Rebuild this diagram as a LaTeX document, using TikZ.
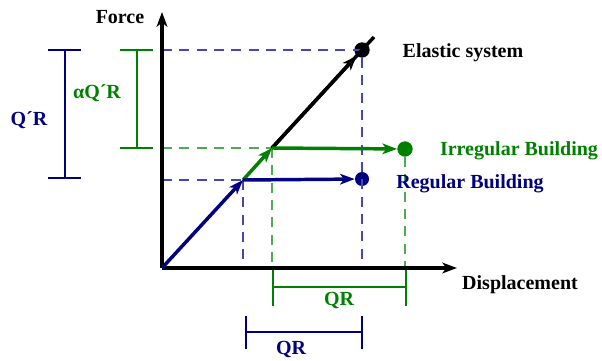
\documentclass[tikz,border=0pt]{standalone}
\usepackage{fontspec}
\setmainfont{Liberation Serif}
\usetikzlibrary{arrows.meta}
\definecolor{nb}{RGB}{0,0,128}
\definecolor{gg}{RGB}{0,128,0}
\definecolor{lb}{RGB}{70,70,180}
\definecolor{lg}{RGB}{80,170,80}
\begin{document}
\begin{tikzpicture}[x=0.75pt,y=-0.75pt,
  lbl/.style={font=\bfseries\fontsize{15}{17}\selectfont, inner sep=0pt},
  thk/.style={line width=2.6pt},
  tip/.style={-{Stealth[length=11pt,width=8pt,inset=3pt]}},
  dsh/.style={line width=0.9pt, dash pattern=on 7.5pt off 5.5pt},
  dim/.style={line width=1.2pt},
  dot/.style={circle, inner sep=0pt, minimum size=11.5pt}]
\useasboundingbox (0,0) rectangle (602,360);
% key points
\coordinate (O) at (162,268);
\coordinate (Ytop) at (162,12);
\coordinate (Xend) at (457,268);
\coordinate (yR) at (243,180);
\coordinate (yI) at (272,148);
\coordinate (eEnd) at (374,37);
\coordinate (yAx50) at (162,50);
\coordinate (yAx148) at (162,148);
\coordinate (yAx180) at (162,180);
\coordinate (xR) at (243,268);
\coordinate (xI) at (272,268);
\coordinate (xE) at (362,268);
\coordinate (xIe) at (405,268);
% dots
\node[dot, fill=black] (dE) at (362,50) {};
\node[dot, fill=nb, minimum size=10.5pt] (dR) at (362,179) {};
\node[dot, fill=gg] (dI) at (405,149) {};
% dashed guides
\draw[dsh, lb] (yAx50) -- (dE.center);
\draw[dsh, lb] (yAx180) -- (yR);
\draw[dsh, lg] (yAx148) -- (yI);
\draw[dsh, lb] (yR) -- (xR);
\draw[dsh, lg] (yI) -- (xI);
\draw[dsh, lb] (dE) -- (xE);
\draw[dsh, lg] (dI) -- (xIe);
% axes
\draw[thk, tip] (O) -- (Ytop);
\draw[thk, tip] (O) -- (Xend);
% curves
\draw[thk, nb, tip] (O) -- (yR);
\draw[thk, gg, tip] (yR) -- (yI);
\draw[thk, black] (yI) -- (eEnd);
\draw[thk, black, tip] (yI) -- (dE);
\draw[thk, nb, tip] (yR) -- (dR);
\draw[thk, gg, tip] (yI) -- (dI);
% labels
\node[lbl] (lF) at (120,17) {Force};
\node[lbl] (lD) at (520,285) {Displacement};
\node[lbl] (lE) at (463,53) {Elastic system};
\node[lbl, gg] (lI) at (519,151) {Irregular Building};
\node[lbl, nb] (lR) at (470,184) {Regular Building};
% Q'R bar
\coordinate (qa) at (65,50); \coordinate (qb) at (65,178);
\draw[dim, nb] (qa) -- (qb);
\draw[dim, nb] ([xshift=-13]qa) -- ([xshift=12]qa);
\draw[dim, nb] ([xshift=-13]qb) -- ([xshift=12]qb);
\node[lbl, nb] (lq) at (29,120) {Q´R};
% alpha Q'R bar
\coordinate (aa) at (137,50); \coordinate (ab) at (137,148);
\draw[dim, gg] (aa) -- (ab);
\draw[dim, gg] ([xshift=-13]aa) -- ([xshift=12]aa);
\draw[dim, gg] ([xshift=-13]ab) -- ([xshift=12]ab);
\node[lbl, gg] (la) at (97,93) {αQ´R};
% green QR
\coordinate (ga) at (273,287); \coordinate (gb) at (406,287);
\draw[dim, gg] (ga) -- (gb);
\draw[dim, gg] ([yshift=-14]ga) -- ([yshift=13]ga);
\draw[dim, gg] ([yshift=-14]gb) -- ([yshift=13]gb);
\node[lbl, gg] (lgq) at (339,300) {QR};
% blue QR
\coordinate (ba) at (246,332); \coordinate (bb) at (362,332);
\draw[dim, nb] (ba) -- (bb);
\draw[dim, nb] ([yshift=-13]ba) -- ([yshift=12]ba);
\draw[dim, nb] ([yshift=-13]bb) -- ([yshift=12]bb);
\node[lbl, nb] (lbq) at (291,349) {QR};
\end{tikzpicture}
\end{document}
